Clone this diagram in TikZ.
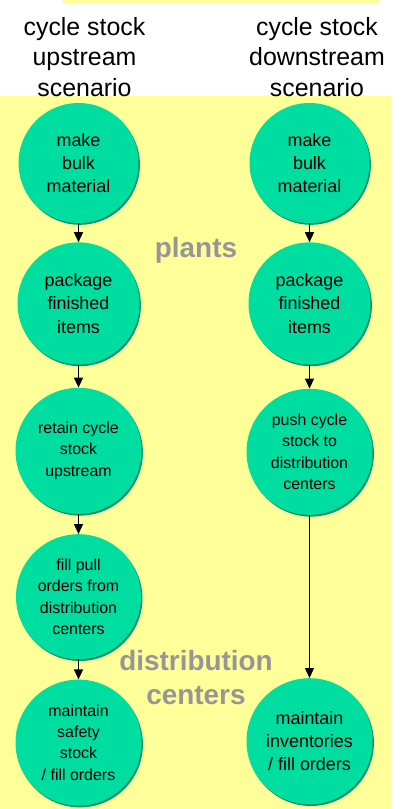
\documentclass[tikz,border=0pt]{standalone}
\usepackage{fontspec}
\setmainfont{Liberation Sans}
\usetikzlibrary{positioning}
\usetikzlibrary{scopes}
\usetikzlibrary{arrows.meta}
\usetikzlibrary{shadows}

\definecolor{bgyellow}{RGB}{255,255,153}
\definecolor{stepgreen}{RGB}{0,221,160}
\definecolor{stepshade}{RGB}{0,150,105}
\definecolor{zonegray}{RGB}{150,150,150}

\begin{document}
\begin{tikzpicture}[
    x=1bp, y=-1bp,
    cnode/.style={circle, fill=stepgreen, inner sep=0, align=center, minimum size=125bp,
        drop shadow={shadow xshift=1.4bp, shadow yshift=-1.8bp, fill=stepshade, opacity=1}},
    btext/.style={font=\fontsize{18}{23.3}\selectfont},
    stext/.style={font=\fontsize{16}{21.3}\selectfont},
    dedge/.style={-{Triangle[width=9bp,length=10bp]}, line width=1.4bp, draw=black},
    title/.style={inner sep=0, anchor=north, align=center, font=\fontsize{25}{30.5}\selectfont},
    zone/.style={inner sep=0, align=center, text=zonegray, font=\fontsize{28}{34}\selectfont\bfseries}
]
\useasboundingbox (0,0) rectangle (403,809);
\fill[bgyellow] (63,0) rectangle (379,3);
\fill[bgyellow] (0,96) rectangle (391,809);

% Titles
\node[title] (uptitle) at (84.5,17) {cycle stock\\upstream\\scenario};
\node[title] (downtitle) at (317,17) {cycle stock\\downstream\\scenario};

% Upstream scenario
{ [local bounding box=upstream]
\node[cnode, btext, minimum size=120bp] (umake) at (78.5,163) {make\\bulk\\material};
\node[cnode, btext, minimum size=122bp, below=19bp of umake] (upack) {package\\finished\\items};
\node[cnode, stext, minimum size=126bp, below=23bp of upack] (uretain) {retain cycle\\stock\\upstream};
\node[cnode, stext, minimum size=125bp, below=20bp of uretain] (ufill) {fill pull\\orders from\\distribution\\centers};
\node[cnode, stext, minimum size=126bp, below=20bp of ufill] (usafety) {maintain\\safety\\stock\\/ fill orders};
\draw [dedge] (umake) -- (upack);
\draw [dedge] (upack) -- (uretain);
\draw [dedge] (uretain) -- (ufill);
\draw [dedge] (ufill) -- (usafety);
}

% Downstream scenario
{ [local bounding box=downstream]
\node[cnode, btext, minimum size=120bp] (dmake) at (309.5,163) {make\\bulk\\material};
\node[cnode, btext, minimum size=122bp, below=19bp of dmake] (dpack) {package\\finished\\items};
\node[cnode, stext, minimum size=126bp, below=24bp of dpack] (dpush) {push cycle\\stock to\\distribution\\centers};
\node[cnode, btext, minimum size=126bp, below=163bp of dpush] (dinv) {maintain\\inventories\\/ fill orders};
\draw [dedge] (dmake) -- (dpack);
\draw [dedge] (dpack) -- (dpush);
\draw [dedge] (dpush) -- (dinv);
}

% Zones
\node[zone, anchor=base] (plants) at (196,257) {plants};
\node[zone, anchor=north] (dcs) at (196,650) {distribution\\centers};

\end{tikzpicture}
\end{document}
